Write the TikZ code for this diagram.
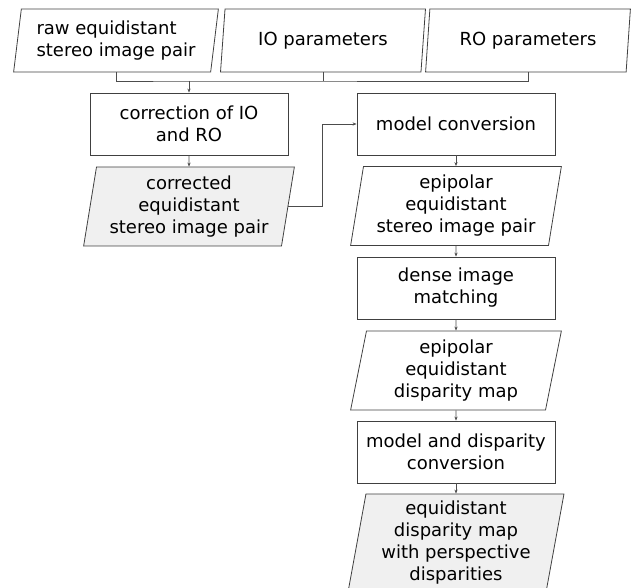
\documentclass[tikz,border=0pt]{standalone}
\usepackage{fontspec}
\setmainfont{DejaVu Sans}
\usepackage{tikz}
\usetikzlibrary{arrows.meta,shapes.geometric}

\begin{document}
\begin{tikzpicture}[x=1pt, y=-1pt, >={Stealth[length=4pt,width=3.2pt]}, every node/.style={font=\fontsize{18}{22}\selectfont}]
\tikzset{
  procbox/.style={
    draw=black!75,
    line width=0.8pt,
    rectangle,
    minimum width=198pt,
    minimum height=62pt,
    inner sep=2pt,
    align=center,
  },
  databox/.style={
    draw=black!75,
    line width=0.8pt,
    trapezium,
    trapezium left angle=80,
    trapezium right angle=100,
    trapezium stretches=true,
    minimum width=211pt,
    minimum height=79pt,
    inner sep=1pt,
    align=center,
  },
  inputbox/.style={databox, trapezium left angle=81, trapezium right angle=99, minimum width=205pt, minimum height=63pt},
  resultbox/.style={databox, fill=black!6},
  flow/.style={draw=black!70, line width=0.8pt}
}
\useasboundingbox (0,0) rectangle (633,588);
\clip (0,0) rectangle (633,588);
% inputs
\node[inputbox, align=left] (raw) at (116,40.5) {raw equidistant\\stereo image pair};
\node[inputbox] (io) at (323,40.5) {IO parameters};
\node[inputbox] (ro) at (528,40.5) {RO parameters};
% left column
\node[procbox] (corr) at (189,124) {correction of IO\\and RO};
\node[resultbox] (corrected) at (189,206.5) {corrected\\equidistant\\stereo image pair};
% right column
\node[procbox] (model) at (456,124) {model conversion};
\node[databox] (epi) at (456,206) {epipolar\\equidistant\\stereo image pair};
\node[procbox] (dense) at (456,288) {dense image\\matching};
\node[databox] (epidisp) at (456,370.5) {epipolar\\equidistant\\disparity map};
\node[procbox] (mdc) at (456,452) {model and disparity\\conversion};
\node[resultbox, minimum width=216pt, minimum height=98pt] (final) at (456,543) {equidistant\\disparity map\\with perspective\\disparities};
% connectors
\coordinate (split) at (189,81);
\draw[flow] (raw.south) |- (split) -| (ro.south);
\draw[flow] (io.south) -- (io.south |- split);
\draw[flow,->] (split) -- (corr);
\draw[flow,->] (corr) -- (corrected);
\draw[flow,->] (corrected.east) -- ++(34,0) |- (model.west);
\foreach \a/\b in {model/epi, epi/dense, dense/epidisp, epidisp/mdc, mdc/final}
  \draw[flow,->] (\a) -- (\b);
\end{tikzpicture}
\end{document}
